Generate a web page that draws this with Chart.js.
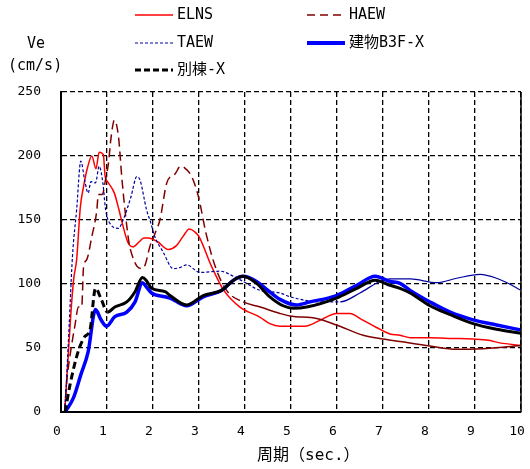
<!DOCTYPE html>
<html>
<head>
<meta charset="utf-8">
<script src="https://cdn.jsdelivr.net/npm/chart.js@4.4.1/dist/chart.umd.min.js"></script>
<style>
  body { margin: 0; background: #fff; }
  #wrap { position: relative; width: 530px; height: 469px; }
  #myChart { position: absolute; left: 0; top: 0; }
  .txt { position: absolute; font-family: "DejaVu Sans Mono", "Noto Sans CJK JP", monospace; color: #000; white-space: nowrap; line-height: 1; }
  .leg { position: absolute; font-family: "DejaVu Sans Mono", "Noto Sans CJK JP", monospace; font-size: 15px; line-height: 1; white-space: nowrap; }
  .leg svg { position: absolute; left: 0; top: -5px; }
  .leg span { position: absolute; left: 42px; top: -8px; }
</style>
</head>
<body>
<div id="wrap">
  <canvas id="myChart" width="530" height="469"></canvas>
  <div class="txt" style="left:27px; top:36px; font-size:15px;">Ve</div>
  <div class="txt" style="left:8px; top:58px; font-size:15px;">(cm/s)</div>
  <div class="txt" style="left:257px; top:447px; font-size:16px;">周期（sec.）</div>

  <div class="leg" style="left:135px; top:15px;">
    <svg width="40" height="10"><line x1="0" y1="5" x2="38" y2="5" stroke="#ff0000" stroke-width="1.5"/></svg><span>ELNS</span>
  </div>
  <div class="leg" style="left:307px; top:15px;">
    <svg width="40" height="10"><line x1="0" y1="5" x2="38" y2="5" stroke="#800000" stroke-width="1.5" stroke-dasharray="8,5"/></svg><span>HAEW</span>
  </div>
  <div class="leg" style="left:135px; top:43px;">
    <svg width="40" height="10"><line x1="0" y1="5" x2="38" y2="5" stroke="#0000a0" stroke-width="1.2" stroke-dasharray="3,2"/></svg><span>TAEW</span>
  </div>
  <div class="leg" style="left:307px; top:43px;">
    <svg width="40" height="10"><line x1="0" y1="5" x2="38" y2="5" stroke="#0000ff" stroke-width="4"/></svg><span>建物B3F-X</span>
  </div>
  <div class="leg" style="left:135px; top:70px;">
    <svg width="40" height="10"><line x1="0" y1="5" x2="38" y2="5" stroke="#000" stroke-width="3" stroke-dasharray="6,3"/></svg><span>別棟-X</span>
  </div>
</div>
<script>
const ctx = document.getElementById('myChart');

// axis ranges
const xTicksMax = 10;
const yTicksMax = 250;

// ELNS
const elnsT = [0.08,0.15,0.22,0.28,0.34,0.42,0.49,0.57,0.67,0.76,0.83,0.92,0.96,1.03,1.16,1.26,1.35,1.46,1.57,1.70,1.80,1.90,2.10,2.33,2.51,2.65,2.79,2.90,3.00,3.27,3.54,3.89,4.33,4.54,4.76,5.00,5.30,5.65,5.99,6.28,6.55,6.86,7.15,7.37,7.60,8.02,8.50,8.96,9.30,9.54,10.0];
const elnsV = [0,40,80,105,119,160,176,190,200,190,203,201,184,179,171,158,145,132,129,133,136,136,133,127,130,137,143,141,137,114,95,82,74,69,67,67,67,72,77,77,72,66,61,60,58,58,57.5,57,56,54,52];

// HAEW
const haewT = [0.08,0.12,0.20,0.30,0.38,0.45,0.49,0.56,0.67,0.78,0.81,0.90,0.97,1.03,1.09,1.16,1.25,1.32,1.39,1.48,1.55,1.65,1.75,1.83,1.93,2.05,2.15,2.30,2.48,2.60,2.68,2.84,2.99,3.15,3.35,3.60,3.96,4.33,4.76,4.98,5.56,5.99,6.57,7.00,7.37,8.02,8.60,9.18,9.60,10.0];
const haewV = [0,22,45,67,82,82,113,119,137,158,170,170,182,194,215,228,215,184,158,132,122,114,112,115,129,140,150,179,186,192,191,184,168,140,114,95,86,82,77,75,73,68,60,57,55,51.5,49,49.5,50.5,52];

// TAEW
const taewT = [0.08,0.12,0.18,0.25,0.34,0.43,0.52,0.59,0.65,0.75,0.83,0.91,0.97,1.07,1.25,1.35,1.52,1.65,1.72,1.86,1.95,2.04,2.22,2.44,2.60,2.73,3.02,3.46,3.75,3.96,4.33,4.76,4.98,5.63,6.07,6.50,6.93,7.15,7.59,8.17,8.60,9.11,9.47,9.75,10.0];
const taewV = [0,25,70,122,158,196,180,171,180,179,192,179,158,147,143.5,150,168,184,181,158,148,137,125,112,113,115,109,110,106,102,95,93,90,86,86,93,102,104,104,101,104.5,107.5,104.5,100,95];

// 建物B3F-X
const b3fT = [0.09,0.27,0.43,0.59,0.75,0.87,0.99,1.17,1.43,1.61,1.77,1.85,1.97,2.26,2.37,2.73,3.09,3.49,3.75,3.96,4.25,4.50,4.76,5.12,5.41,5.99,6.43,6.83,7.15,7.37,7.59,8.02,8.46,8.96,9.47,10.0];
const b3fV = [0,11,29,47,80,72,67,74.5,78,86,101,98,93,90,89,83,90,95,103,106,102,95,88,83.6,86,91,99,106,102,100.5,95,86,78,72,68,64];

// 別棟-X
const betT = [0.09,0.20,0.38,0.52,0.63,0.75,0.88,1.01,1.17,1.43,1.61,1.77,1.85,1.97,2.26,2.37,2.73,3.09,3.49,3.75,3.96,4.25,4.54,4.83,5.05,5.34,5.99,6.43,6.83,7.15,7.37,7.59,8.02,8.46,8.96,9.47,10.0];
const betV = [0,22,48,59,64,96.6,87.5,78,82,86,94,105,103,96.6,94,91,83.6,91,95,103,106,100.5,90,83,81,82,89,96.6,103,99,96.6,93,83,76,69,64.6,61.5];

function pts(t, v){
    return t.map((x, i) => ({x: x, y: v[i]}));
}

// long dashes only show where the source points are sparse
function dashUntil(limit, dash){
    return c => (c.p0.parsed.x < limit ? dash : undefined);
}

const rightEdge = {
    id: 'rightEdge',
    afterDraw(chart){
        const a = chart.chartArea;
        const g = chart.ctx;
        g.save();
        g.strokeStyle = '#000';
        g.lineWidth = 1.5;
        g.beginPath();
        g.moveTo(a.right, a.top);
        g.lineTo(a.right, a.bottom);
        g.stroke();
        g.restore();
    }
};

const tickFont = { family: '"DejaVu Sans Mono", monospace', size: 13 };

new Chart(ctx, {
    type: 'line',
    data: {
        datasets: [
            {
                label: 'ELNS',
                data: pts(elnsT, elnsV),
                borderColor: '#ff0000',
                borderWidth: 1.5,
                order: 5
            },
            {
                label: 'HAEW',
                data: pts(haewT, haewV),
                borderColor: '#800000',
                borderWidth: 1.5,
                borderDash: [],
                segment: { borderDash: dashUntil(3.7, [9, 5]) },
                order: 4
            },
            {
                label: 'TAEW',
                data: pts(taewT, taewV),
                borderColor: '#0000a0',
                borderWidth: 1.2,
                borderDash: [],
                segment: { borderDash: dashUntil(6.0, [3, 2]) },
                order: 3
            },
            {
                label: '建物B3F-X',
                data: pts(b3fT, b3fV),
                borderColor: '#0000ff',
                borderWidth: 3.5,
                order: 2
            },
            {
                label: '別棟-X',
                data: pts(betT, betV),
                borderColor: '#000000',
                borderWidth: 3,
                borderDash: [],
                segment: { borderDash: dashUntil(1.0, [7, 4]) },
                order: 1
            }
        ]
    },
    options: {
        responsive: false,
        animation: false,
        elements: {
            point: { radius: 0 },
            line: { cubicInterpolationMode: 'monotone', fill: false }
        },
        layout: {
            padding: { top: 92, right: 9, left: 0, bottom: 0 }
        },
        plugins: {
            legend: { display: false },
            tooltip: { enabled: false }
        },
        scales: {
            x: {
                type: 'linear',
                min: 0,
                max: xTicksMax,
                afterFit: s => { s.height = 57; s.paddingLeft = 0; s.paddingRight = 0; },
                border: { display: true, color: '#000', width: 2, dash: [5, 3] },
                grid: { color: '#000', lineWidth: 1.3, drawTicks: false },
                ticks: { stepSize: 1, color: '#000', font: tickFont, padding: 12, labelOffset: -4, maxRotation: 0 }
            },
            y: {
                min: 0,
                max: yTicksMax,
                afterFit: s => { s.width = 61; s.paddingTop = 0; s.paddingBottom = 0; },
                border: { display: true, color: '#000', width: 2, dash: [5, 3] },
                grid: { color: '#000', lineWidth: 1.3, drawTicks: false },
                ticks: { stepSize: 50, color: '#000', font: tickFont, padding: 20 }
            }
        }
    },
    plugins: [rightEdge]
});
</script>
</body>
</html>
